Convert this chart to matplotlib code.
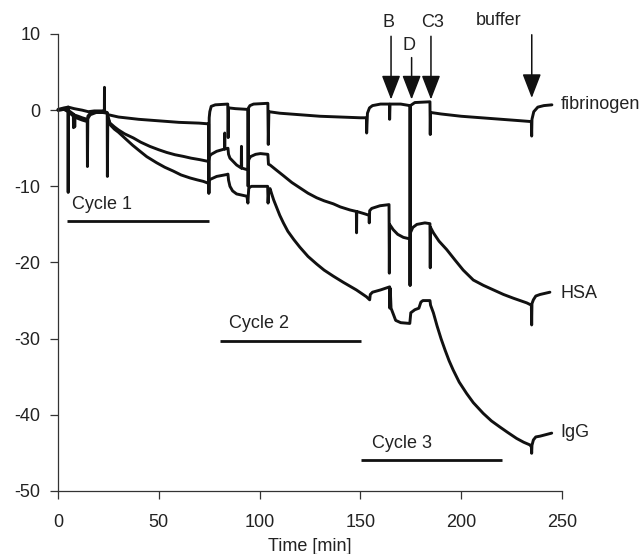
import matplotlib
matplotlib.use('Agg')
import matplotlib.pyplot as plt

plt.rcParams['font.family'] = ['Liberation Sans', 'DejaVu Sans']

# ---------------- data ----------------
fib_t = [0, 3, 5.0, 5.05, 5.1, 8, 12, 15, 18, 22, 23.0, 23.05, 23.1, 25, 30, 40, 50, 60, 70,
         74.7, 74.85, 75.0, 75.3, 76, 78, 84.2, 84.4, 84.6, 88, 94.1, 94.3, 94.5, 95.2, 97,
         104.1, 104.3, 104.6, 110, 120, 130, 140, 150, 153.0, 153.1, 153.5, 154.5, 156, 160,
         164.4, 164.5, 164.7, 170, 174.5, 174.65, 174.8, 177, 184.5, 184.65, 184.8, 190, 200,
         210, 220, 230, 234.8, 234.95, 235.1, 236, 238, 241, 245]
fib_v = [0.1, 0.3, 0.4, -10.8, 0.4, 0.2, 0.0, -0.2, -0.1, -0.1, 0.0, 3.0, -0.1, -0.6, -0.9,
         -1.2, -1.4, -1.6, -1.7, -1.8, -10.9, -1.0, -0.2, 0.5, 0.7, 0.8, -3.6, 0.3, 0.2, 0.1,
         -10.0, 0.3, 0.6, 0.8, 0.9, -4.5, -0.2, -0.4, -0.6, -0.8, -0.9, -1.0, -1.0, -3.0, -0.4,
         0.3, 0.6, 0.8, 0.8, -1.2, 0.8, 0.8, 0.6, -23.0, 0.6, 1.0, 1.1, -3.2, -0.3, -0.5, -0.8,
         -1.0, -1.2, -1.4, -1.5, -3.4, -1.2, -0.2, 0.4, 0.6, 0.7]

hsa_t = [0, 3, 5, 8.2, 8.3, 8.4, 10, 12, 14.5, 14.6, 14.8, 16, 18, 20, 24.4, 24.5, 24.7, 25.8,
         28, 30, 33, 37.4, 41, 45.6, 50, 53.9, 58, 62.2, 66, 70.4, 74.6, 75.0, 75.3, 76, 78.7,
         82.6, 82.7, 82.8, 84.3, 84.6, 85.3, 88.6, 90.9, 91.0, 91.1, 93.7, 94.3, 94.6, 95.5,
         98, 100.4, 104.1, 104.4, 105.2, 108, 111.8, 116, 120, 124, 128.3, 132, 136.6, 140,
         144.8, 148.0, 148.1, 148.2, 152, 154.3, 154.4, 154.6, 155.6, 159.7, 164.2, 164.35,
         164.5, 166.3, 168.5, 171.3, 174.5, 174.65, 174.8, 176, 178, 182, 184.5, 184.65, 184.8,
         186.2, 189, 192.8, 197, 201, 206, 211, 216, 221, 226, 232.5, 234.8, 234.95, 235.1,
         235.8, 237, 239.1, 244]
hsa_v = [0.0, 0.1, -0.2, -0.9, -2.2, -0.9, -1.1, -1.3, -1.5, -7.4, -0.8, -0.4, -0.3, -0.3,
         -0.3, -8.7, -1.0, -1.7, -2.2, -2.6, -3.1, -3.65, -4.2, -4.76, -5.2, -5.55, -5.85,
         -6.07, -6.3, -6.5, -6.73, -6.3, -6.0, -5.8, -5.4, -5.1, -3.0, -5.1, -5.0, -5.8, -6.3,
         -7.2, -7.6, -4.75, -7.6, -7.8, -7.8, -6.5, -6.1, -5.8, -5.7, -5.8, -7.1, -7.2, -7.8,
         -8.6, -9.5, -10.2, -10.9, -11.5, -11.9, -12.3, -12.7, -13.1, -13.3, -16.1, -13.3,
         -13.6, -13.8, -14.8, -13.2, -12.9, -12.55, -12.4, -21.4, -15.0, -15.7, -16.3, -16.7,
         -16.9, -23.0, -16.1, -15.4, -15.0, -14.8, -14.9, -20.7, -15.4, -16.1, -17.2, -18.3,
         -19.7, -21.0, -22.3, -23.0, -23.6, -24.2, -24.7, -25.3, -25.6, -28.2, -25.4, -24.9,
         -24.4, -24.2, -23.9]

igg_t = [0, 3, 5, 7.6, 7.7, 7.8, 10, 12, 14.5, 16, 19, 22, 24.5, 25.8, 28, 30, 34.1, 37,
         40.7, 44, 48.9, 53, 57.2, 61, 65.5, 69, 72.1, 74.6, 74.8, 75.0, 75.4, 78.7, 83.7, 84.3,
         84.6, 85.3, 86.6, 88.6, 93.7, 94.2, 94.4, 94.6, 95.2, 96, 104.0, 104.2, 104.5, 105.2,
         106, 107, 108.5, 110, 111.8, 114, 117, 120, 124, 128.3, 132, 136.6, 141.5, 148, 153,
         154.6, 154.9, 156, 160, 164.5, 164.6, 164.8, 165.2, 167.5, 170, 174.5, 175.0, 177,
         179, 180, 181, 184.5, 184.8, 186.2, 188, 190, 192, 194, 196, 199, 202.7, 206, 210.9,
         215, 219.2, 223, 227.5, 231, 234.1, 234.8, 234.95, 235.1, 235.8, 237, 239.1, 244.9]
igg_v = [0.0, 0.1, 0.0, -0.5, -2.3, -0.6, -0.8, -1.0, -1.2, -0.6, -0.3, -0.3, -0.4, -1.9,
         -2.5, -2.9, -3.9, -4.6, -5.4, -6.1, -6.9, -7.5, -8.0, -8.5, -8.9, -9.15, -9.35, -9.6,
         -10.9, -9.3, -9.1, -8.7, -8.45, -8.4, -9.2, -10.0, -10.6, -11.0, -11.3, -12.2, -11.2,
         -10.3, -10.1, -10.0, -10.0, -12.2, -10.8, -10.3, -11.0, -11.8, -12.8, -13.8, -14.8,
         -15.9, -17.0, -18.0, -19.2, -20.2, -21.0, -21.8, -22.6, -23.6, -24.5, -24.9, -24.2,
         -23.9, -23.6, -23.2, -26.0, -23.4, -26.0, -27.6, -27.9, -28.0, -26.6, -26.2, -26.0,
         -25.2, -25.0, -25.0, -25.6, -26.6, -28.3, -30.0, -31.5, -32.9, -34.1, -35.7, -37.2,
         -38.4, -39.8, -40.8, -41.6, -42.3, -43.1, -43.6, -43.95, -44.2, -45.05, -44.0, -43.3,
         -42.9, -42.8, -42.4]

curve_names = ['fibrinogen', 'HSA', 'IgG']
curve_label_y = [0.7, -24.1, -42.3]
curve_label_t = 249.3

cycle_names = ['Cycle 1', 'Cycle 2', 'Cycle 3']
cycle_start = [4.3, 80.4, 150.1]
cycle_end = [74.9, 150.1, 220.4]
cycle_bar_y = [-14.6, -30.3, -45.9]
cycle_text_t = [6.8, 84.7, 155.6]
cycle_text_y = [-12.4, -28.0, -43.8]

arrow_names = ['B', 'D', 'C3', 'buffer']
arrow_t = [165.2, 175.4, 185.0, 235.0]
arrow_tip = [1.4, 1.4, 1.4, 1.6]
arrow_top = [9.7, 6.9, 9.7, 9.9]
arrow_text_t = [163.7, 174.1, 186.0, 218.8]
arrow_text_y = [11.5, 8.5, 11.5, 11.8]

xticks = [0, 50, 100, 150, 200, 250]
yticks = [-50, -40, -30, -20, -10, 0, 10]
ytick_labels = ['-50', '-40', '-30', '-20', '-10', '0', '10']

# ---------------- figure ----------------
W, H = 643, 554
fig = plt.figure(figsize=(W / 100, H / 100), dpi=100)
ax = fig.add_axes([58 / W, 1 - 491 / H, (562 - 58) / W, (491 - 34) / H])

line_color = '#111111'
text_color = '#222222'
FS = 13

for t, v in [(fib_t, fib_v), (hsa_t, hsa_v), (igg_t, igg_v)]:
    ax.plot(t, v, color=line_color, lw=2.1, solid_joinstyle='round',
            solid_capstyle='round', clip_on=False)

for name, y in zip(curve_names, curve_label_y):
    ax.text(curve_label_t, y, name, ha='left', va='center', fontsize=FS,
            color=text_color)

for name, s, e, by, tt, ty in zip(cycle_names, cycle_start, cycle_end, cycle_bar_y,
                                  cycle_text_t, cycle_text_y):
    ax.plot([s, e], [by, by], color=line_color, lw=2.0, solid_capstyle='butt')
    ax.text(tt, ty, name, ha='left', va='center', fontsize=FS, color=text_color)

for name, t, tip, top, tt, ty in zip(arrow_names, arrow_t, arrow_tip, arrow_top,
                                     arrow_text_t, arrow_text_y):
    ax.annotate('', xy=(t, tip), xytext=(t, top),
                arrowprops=dict(arrowstyle='-|>,head_length=1.5,head_width=0.58',
                                lw=1.1, color=line_color, shrinkA=0, shrinkB=0,
                                mutation_scale=10), annotation_clip=False)
    ax.text(tt, ty, name, ha='center', va='center', fontsize=FS, color=text_color)

ax.set_xlim(0, 250)
ax.set_ylim(-50, 10)
ax.set_xticks(xticks)
ax.set_xticklabels([str(x) for x in xticks])
ax.set_yticks(yticks)
ax.set_yticklabels(ytick_labels)
for side in ['top', 'right']:
    ax.spines[side].set_visible(False)
for side in ['left', 'bottom']:
    ax.spines[side].set_linewidth(0.9)
    ax.spines[side].set_color('#333333')
ax.tick_params(direction='out', length=5.5, width=0.9, color='#333333',
               labelsize=FS, labelcolor=text_color)
ax.tick_params(axis='x', pad=11)
ax.tick_params(axis='y', pad=7)
ax.set_xlabel('Time [min]', fontsize=FS, color=text_color, labelpad=5)

fig.savefig('out.png', dpi=100)
